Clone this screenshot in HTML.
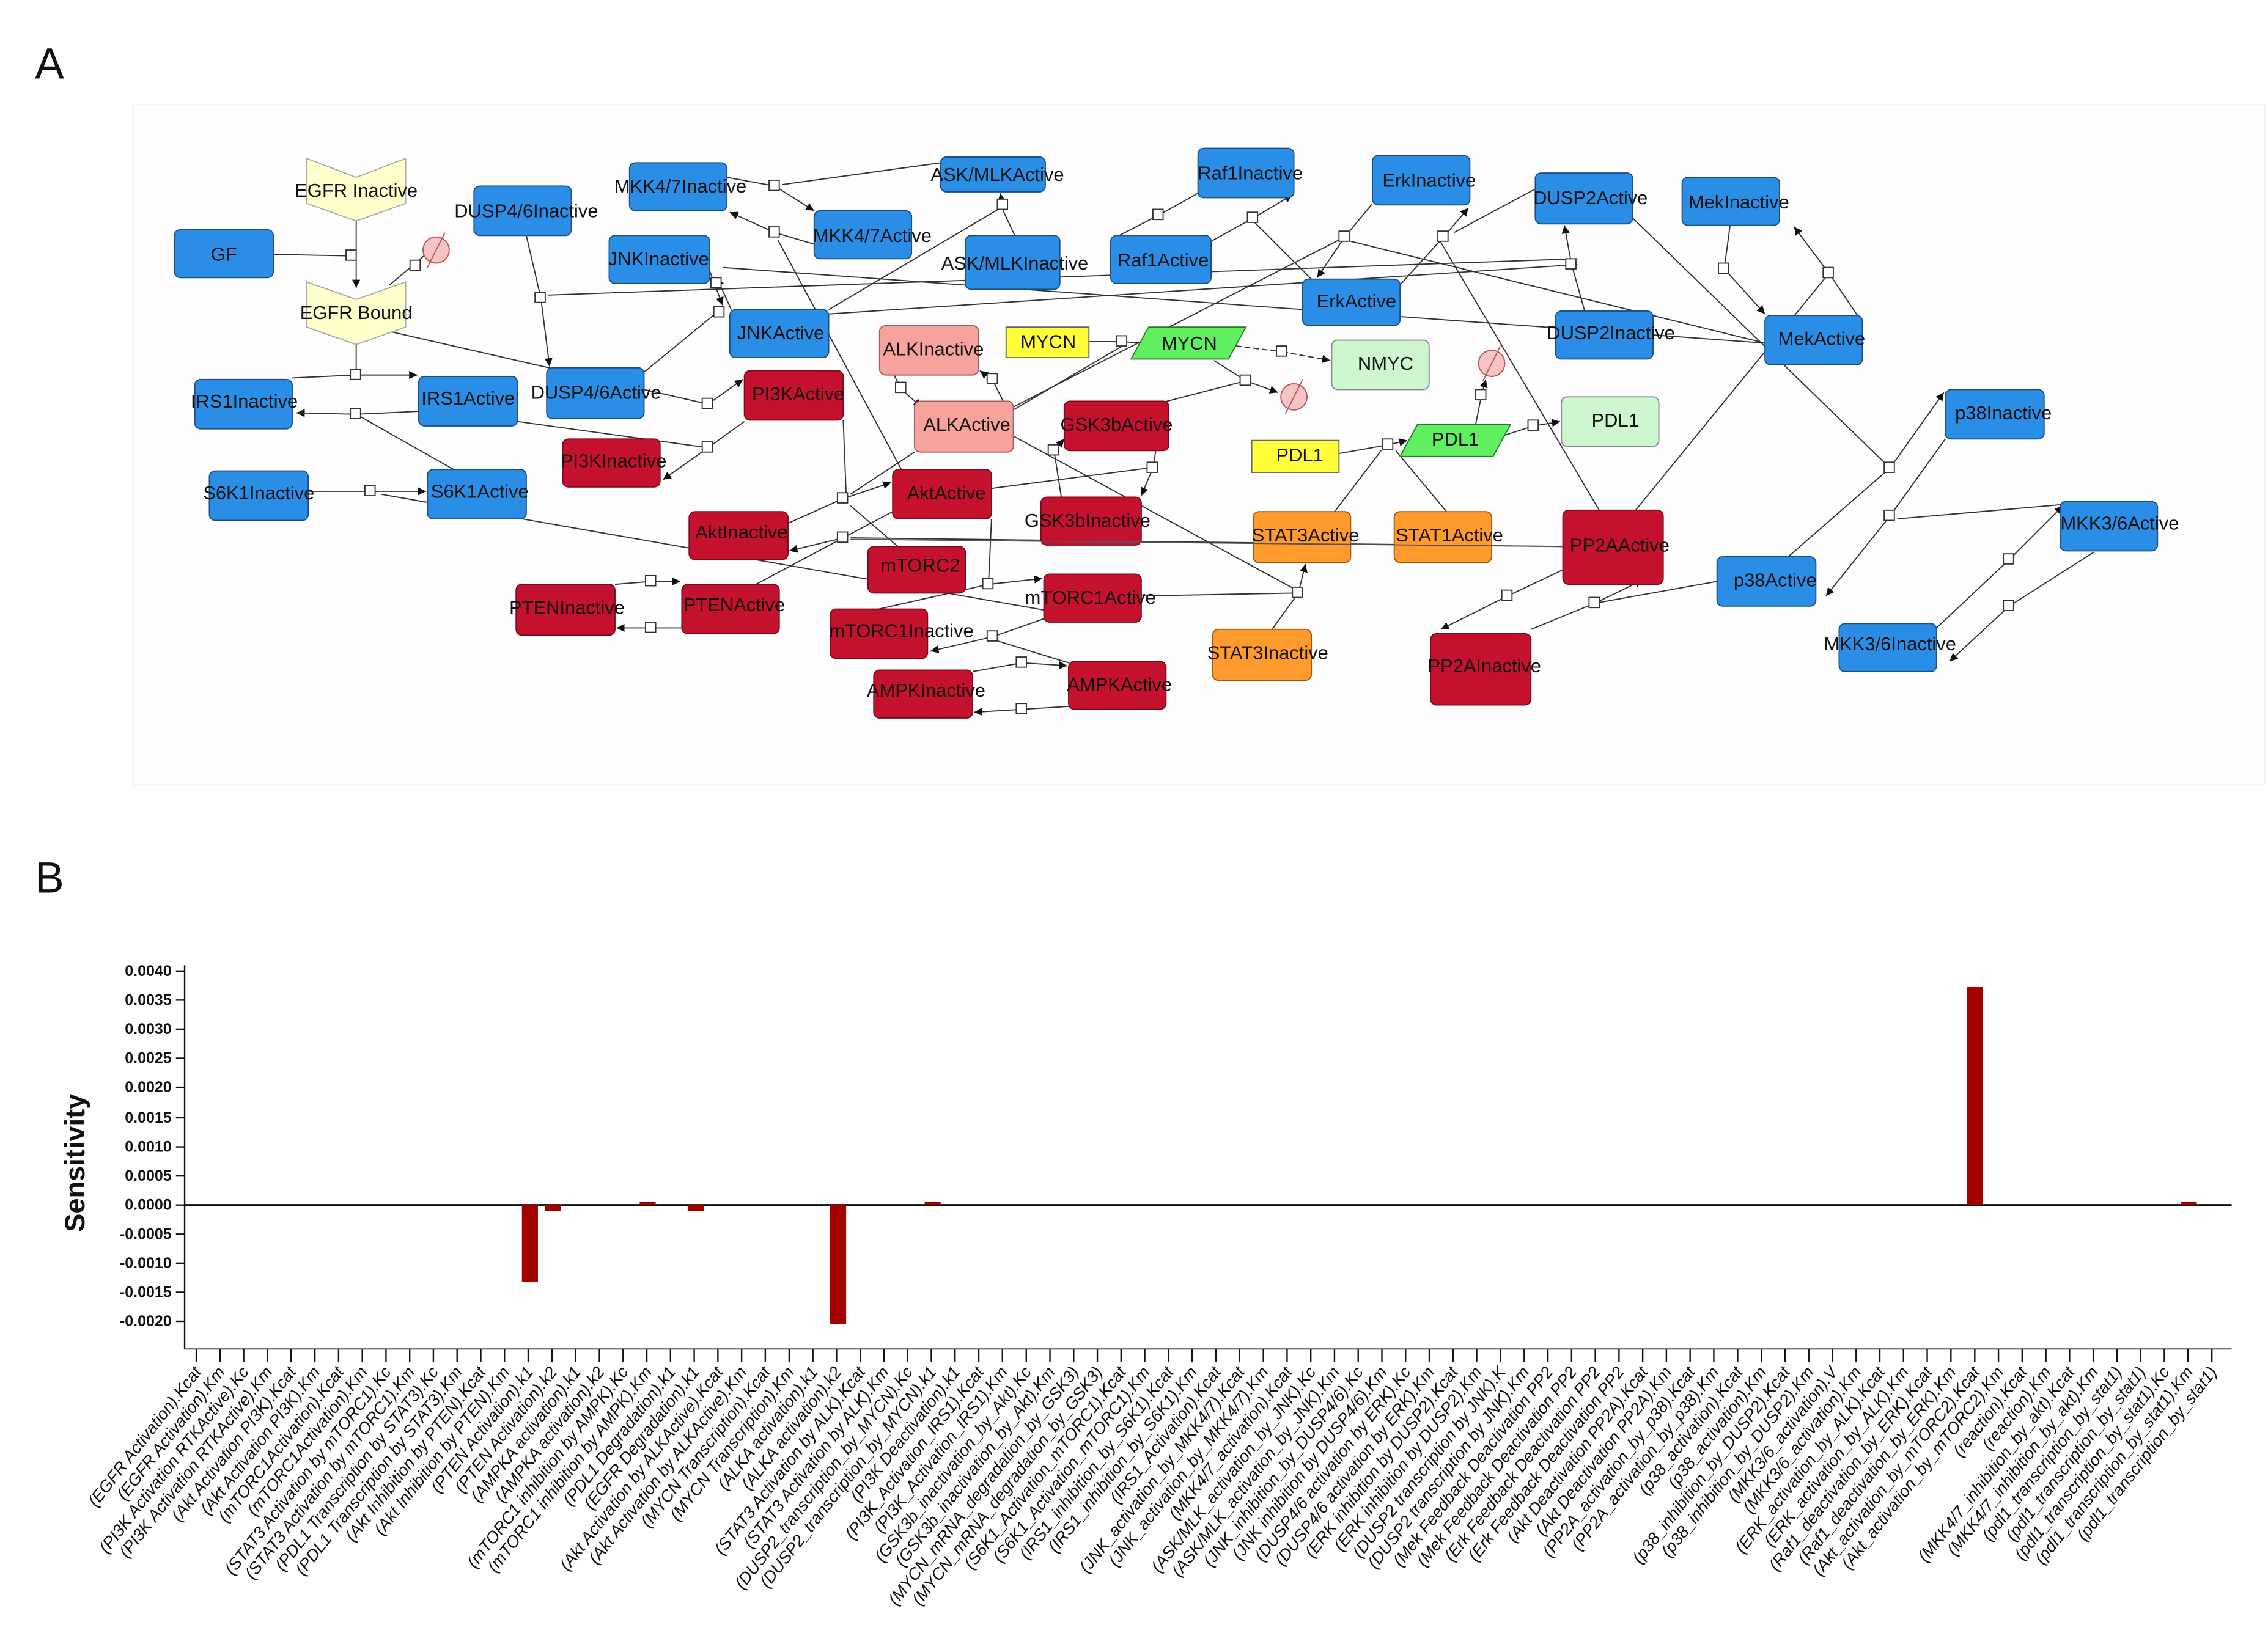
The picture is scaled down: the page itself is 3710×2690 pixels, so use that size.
<!DOCTYPE html>
<html><head><meta charset="utf-8"><style>
html,body{margin:0;padding:0;background:#fff;}
svg{display:block;}
.n{font-family:"Liberation Sans",sans-serif;font-size:13px;fill:#111;text-anchor:middle;dominant-baseline:central;}
.e{stroke:#333;stroke-width:0.8;fill:none;}
.sq{fill:#fff;stroke:#333;stroke-width:0.8;}
.b{fill:#2a8ee6;stroke:#1d4f86;stroke-width:0.8;}
.r{fill:#c4112e;stroke:#7a0a1a;stroke-width:0.8;}
.p{fill:#f5a39c;stroke:#a06060;stroke-width:0.8;}
.o{fill:#ff9a2c;stroke:#a05a10;stroke-width:0.8;}
.lg{fill:#cff7cf;stroke:#889;stroke-width:0.8;}
.yl{fill:#ffff3a;stroke:#666;stroke-width:0.8;}
.gr{fill:#5ef05e;stroke:#2a7a2a;stroke-width:0.8;}
.cv{fill:#ffffcc;stroke:#aaa;stroke-width:0.8;}
.nul{fill:#f6c4c4;stroke:#b55;stroke-width:0.8;}
.yt{font-family:"Liberation Sans",sans-serif;font-size:10.5px;font-weight:bold;fill:#111;text-anchor:end;dominant-baseline:central;}
.xl{font-family:"Liberation Sans",sans-serif;font-size:11.5px;font-style:italic;fill:#111;text-anchor:end;}
</style></head><body>
<svg width="3710" height="2690" viewBox="0 0 1560 1131" preserveAspectRatio="none" xmlns="http://www.w3.org/2000/svg">
<defs>
<marker id="ar" viewBox="0 0 10 10" refX="10" refY="5" markerWidth="7" markerHeight="7" orient="auto"><path d="M0,0 L10,5 L0,10 z" fill="#111"/></marker>
</defs>
<text x="24" y="54" font-family="Liberation Sans,sans-serif" font-size="30" fill="#111">A</text>
<text x="24" y="614" font-family="Liberation Sans,sans-serif" font-size="30" fill="#111">B</text>
<rect x="92" y="72" width="1466" height="468" fill="#fefefe" stroke="#f4f4f4" stroke-width="1"/>

<g class="e">
<line x1="188" y1="175" x2="238" y2="176"/>
<line x1="245" y1="152" x2="245" y2="198" marker-end="url(#ar)"/>
<line x1="268" y1="196" x2="294" y2="174"/>
<line x1="245" y1="236" x2="245" y2="258"/>
<line x1="201" y1="260" x2="245" y2="258"/>
<line x1="245" y1="258" x2="287" y2="258" marker-end="url(#ar)"/>
<line x1="288" y1="283" x2="245" y2="285"/>
<line x1="245" y1="285" x2="204" y2="284" marker-end="url(#ar)"/>
<line x1="245" y1="285" x2="312" y2="323"/>
<line x1="212" y1="338" x2="255" y2="338"/>
<line x1="255" y1="338" x2="293" y2="338" marker-end="url(#ar)"/>
<line x1="262" y1="340" x2="720" y2="420"/>
<line x1="362" y1="162" x2="372" y2="205"/>
<line x1="372" y1="205" x2="378" y2="252" marker-end="url(#ar)"/>
<line x1="377" y1="203" x2="1085" y2="178"/>
<line x1="268" y1="228" x2="487" y2="278"/>
<line x1="487" y1="278" x2="511" y2="261" marker-end="url(#ar)"/>
<line x1="512" y1="290" x2="487" y2="308"/>
<line x1="487" y1="308" x2="456" y2="330" marker-end="url(#ar)"/>
<line x1="356" y1="290" x2="487" y2="308"/>
<line x1="443" y1="256" x2="493" y2="215"/>
<line x1="488" y1="186" x2="497" y2="210" marker-end="url(#ar)"/>
<line x1="503" y1="213" x2="493" y2="191" marker-end="url(#ar)"/>
<line x1="497" y1="184" x2="1214" y2="236"/>
<line x1="570" y1="216" x2="1085" y2="182"/>
<line x1="500" y1="122" x2="533" y2="128"/>
<line x1="533" y1="128" x2="560" y2="145" marker-end="url(#ar)"/>
<line x1="560" y1="168" x2="533" y2="160"/>
<line x1="533" y1="160" x2="502" y2="146" marker-end="url(#ar)"/>
<line x1="647" y1="112" x2="538" y2="127"/>
<line x1="698" y1="162" x2="690" y2="145"/>
<line x1="690" y1="145" x2="688" y2="133" marker-end="url(#ar)"/>
<line x1="570" y1="213" x2="690" y2="142"/>
<line x1="535" y1="165" x2="620" y2="323"/>
<line x1="764" y1="165" x2="797" y2="148"/>
<line x1="797" y1="148" x2="824" y2="133"/>
<line x1="833" y1="166" x2="862" y2="150"/>
<line x1="862" y1="150" x2="889" y2="134" marker-end="url(#ar)"/>
<line x1="862" y1="152" x2="905" y2="195"/>
<line x1="944" y1="140" x2="925" y2="163"/>
<line x1="925" y1="163" x2="906" y2="191" marker-end="url(#ar)"/>
<line x1="963" y1="196" x2="993" y2="163"/>
<line x1="993" y1="163" x2="1010" y2="143" marker-end="url(#ar)"/>
<line x1="1056" y1="130" x2="1000" y2="160"/>
<line x1="697" y1="280" x2="925" y2="163"/>
<line x1="929" y1="166" x2="1214" y2="236"/>
<line x1="1090" y1="214" x2="1081" y2="182"/>
<line x1="1081" y1="182" x2="1076" y2="155" marker-end="url(#ar)"/>
<line x1="1190" y1="155" x2="1186" y2="185"/>
<line x1="1186" y1="185" x2="1214" y2="216" marker-end="url(#ar)"/>
<line x1="1281" y1="222" x2="1258" y2="188"/>
<line x1="1258" y1="188" x2="1234" y2="156" marker-end="url(#ar)"/>
<line x1="1123" y1="150" x2="1300" y2="322"/>
<line x1="1258" y1="188" x2="1125" y2="351"/>
<line x1="1230" y1="383" x2="1300" y2="322"/>
<line x1="1300" y1="322" x2="1337" y2="270" marker-end="url(#ar)"/>
<line x1="1338" y1="302" x2="1300" y2="355"/>
<line x1="1300" y1="355" x2="1256" y2="410" marker-end="url(#ar)"/>
<line x1="1420" y1="347" x2="1305" y2="357"/>
<line x1="1332" y1="432" x2="1382" y2="385"/>
<line x1="1382" y1="385" x2="1419" y2="348" marker-end="url(#ar)"/>
<line x1="1440" y1="380" x2="1382" y2="417"/>
<line x1="1382" y1="417" x2="1341" y2="455" marker-end="url(#ar)"/>
<line x1="1075" y1="392" x2="1037" y2="410"/>
<line x1="1037" y1="410" x2="991" y2="433" marker-end="url(#ar)"/>
<line x1="1053" y1="433" x2="1097" y2="415"/>
<line x1="1097" y1="415" x2="1130" y2="399" marker-end="url(#ar)"/>
<line x1="1181" y1="400" x2="1097" y2="415"/>
<line x1="1100" y1="351" x2="990" y2="165"/>
<line x1="921" y1="312" x2="955" y2="306"/>
<line x1="955" y1="306" x2="968" y2="303" marker-end="url(#ar)"/>
<line x1="918" y1="352" x2="950" y2="310"/>
<line x1="995" y1="352" x2="960" y2="310"/>
<line x1="1033" y1="300" x2="1055" y2="293"/>
<line x1="1055" y1="293" x2="1073" y2="290" marker-end="url(#ar)"/>
<line x1="1015" y1="292" x2="1019" y2="272"/>
<line x1="1019" y1="272" x2="1022" y2="261" marker-end="url(#ar)"/>
<line x1="749" y1="235" x2="772" y2="235"/>
<line x1="772" y1="235" x2="784" y2="236"/>
<line x1="850" y1="238" x2="882" y2="242" stroke-dasharray="4,2"/>
<line x1="882" y1="242" x2="915" y2="248" stroke-dasharray="4,2" marker-end="url(#ar)"/>
<line x1="835" y1="248" x2="857" y2="262"/>
<line x1="857" y1="262" x2="879" y2="270" marker-end="url(#ar)"/>
<line x1="772" y1="238" x2="697" y2="282"/>
<line x1="857" y1="262" x2="795" y2="278"/>
<line x1="615" y1="258" x2="620" y2="268"/>
<line x1="620" y1="268" x2="634" y2="280" marker-end="url(#ar)"/>
<line x1="690" y1="276" x2="683" y2="262"/>
<line x1="683" y1="262" x2="674" y2="255" marker-end="url(#ar)"/>
<line x1="542" y1="360" x2="580" y2="343"/>
<line x1="580" y1="343" x2="613" y2="332" marker-end="url(#ar)"/>
<line x1="614" y1="352" x2="580" y2="370"/>
<line x1="580" y1="370" x2="543" y2="379" marker-end="url(#ar)"/>
<line x1="580" y1="289" x2="582" y2="340"/>
<line x1="629" y1="311" x2="585" y2="340"/>
<line x1="620" y1="378" x2="585" y2="348"/>
<line x1="520" y1="402" x2="580" y2="370"/>
<line x1="585" y1="370" x2="1075" y2="376"/>
<line x1="730" y1="342" x2="725" y2="310"/>
<line x1="725" y1="310" x2="732" y2="302" marker-end="url(#ar)"/>
<line x1="795" y1="310" x2="793" y2="322"/>
<line x1="793" y1="322" x2="785" y2="341" marker-end="url(#ar)"/>
<line x1="682" y1="336" x2="790" y2="322"/>
<line x1="697" y1="300" x2="890" y2="405"/>
<line x1="423" y1="402" x2="448" y2="400"/>
<line x1="448" y1="400" x2="468" y2="400" marker-end="url(#ar)"/>
<line x1="469" y1="432" x2="448" y2="432"/>
<line x1="448" y1="432" x2="424" y2="432" marker-end="url(#ar)"/>
<line x1="600" y1="420" x2="680" y2="402"/>
<line x1="680" y1="402" x2="717" y2="398" marker-end="url(#ar)"/>
<line x1="720" y1="425" x2="683" y2="438"/>
<line x1="683" y1="438" x2="640" y2="448" marker-end="url(#ar)"/>
<line x1="735" y1="456" x2="683" y2="440"/>
<line x1="680" y1="400" x2="682" y2="357"/>
<line x1="669" y1="462" x2="703" y2="456"/>
<line x1="703" y1="456" x2="734" y2="458" marker-end="url(#ar)"/>
<line x1="735" y1="486" x2="703" y2="488"/>
<line x1="703" y1="488" x2="670" y2="490" marker-end="url(#ar)"/>
<line x1="875" y1="433" x2="893" y2="408"/>
<line x1="893" y1="408" x2="898" y2="388" marker-end="url(#ar)"/>
<line x1="785" y1="410" x2="890" y2="408"/>
</g>
<g class="sq">
<rect x="238" y="172" width="7" height="7"/><rect x="282" y="179" width="7" height="7"/>
<rect x="241" y="254" width="7" height="7"/><rect x="241" y="281" width="7" height="7"/>
<rect x="251" y="334" width="7" height="7"/><rect x="368" y="201" width="7" height="7"/>
<rect x="483" y="274" width="7" height="7"/><rect x="483" y="304" width="7" height="7"/>
<rect x="489" y="191" width="7" height="7"/><rect x="491" y="211" width="7" height="7"/>
<rect x="529" y="124" width="7" height="7"/><rect x="529" y="156" width="7" height="7"/>
<rect x="686" y="137" width="7" height="7"/><rect x="793" y="144" width="7" height="7"/>
<rect x="858" y="146" width="7" height="7"/><rect x="921" y="159" width="7" height="7"/>
<rect x="989" y="159" width="7" height="7"/><rect x="1077" y="178" width="7" height="7"/>
<rect x="1182" y="181" width="7" height="7"/><rect x="1254" y="184" width="7" height="7"/>
<rect x="1296" y="318" width="7" height="7"/><rect x="1296" y="351" width="7" height="7"/>
<rect x="1378" y="381" width="7" height="7"/><rect x="1378" y="413" width="7" height="7"/>
<rect x="1033" y="406" width="7" height="7"/><rect x="1093" y="411" width="7" height="7"/>
<rect x="951" y="302" width="7" height="7"/><rect x="1051" y="289" width="7" height="7"/>
<rect x="1015" y="268" width="7" height="7"/><rect x="768" y="231" width="7" height="7"/>
<rect x="878" y="238" width="7" height="7"/><rect x="853" y="258" width="7" height="7"/>
<rect x="616" y="263" width="7" height="7"/><rect x="679" y="257" width="7" height="7"/>
<rect x="576" y="339" width="7" height="7"/><rect x="576" y="366" width="7" height="7"/>
<rect x="721" y="306" width="7" height="7"/><rect x="789" y="318" width="7" height="7"/>
<rect x="444" y="396" width="7" height="7"/><rect x="444" y="428" width="7" height="7"/>
<rect x="676" y="398" width="7" height="7"/><rect x="679" y="434" width="7" height="7"/>
<rect x="699" y="452" width="7" height="7"/><rect x="699" y="484" width="7" height="7"/>
<rect x="889" y="404" width="7" height="7"/>
</g>
<g class="nul"><circle cx="300" cy="172" r="9"/><circle cx="890" cy="273" r="9"/><circle cx="1026" cy="250" r="9"/></g>
<g stroke="#b55" stroke-width="0.8"><line x1="294" y1="184" x2="306" y2="160"/><line x1="884" y1="285" x2="896" y2="261"/><line x1="1020" y1="262" x2="1032" y2="238"/></g>

<rect class="b" x="120" y="158" width="68" height="33" rx="4" fill="#1a88e8"/>
<polygon class="cv" points="211,109 245,122 279,109 279,140 245,152 211,140"/>
<polygon class="cv" points="211,194 245,206 279,194 279,225 245,237 211,225"/>
<rect class="b" x="326" y="128" width="67" height="34" rx="4"/>
<rect class="b" x="433" y="112" width="67" height="33" rx="4"/>
<rect class="b" x="560" y="145" width="67" height="33" rx="4"/>
<rect class="b" x="647" y="108" width="72" height="24" rx="4"/>
<rect class="b" x="664" y="162" width="65" height="37" rx="4"/>
<rect class="b" x="419" y="162" width="69" height="33" rx="4"/>
<rect class="b" x="502" y="213" width="68" height="33" rx="4"/>
<rect class="b" x="376" y="253" width="67" height="35" rx="4"/>
<rect class="b" x="134" y="261" width="67" height="34" rx="4"/>
<rect class="b" x="288" y="259" width="68" height="34" rx="4"/>
<rect class="b" x="144" y="324" width="68" height="34" rx="4"/>
<rect class="b" x="294" y="323" width="68" height="34" rx="4"/>
<rect class="b" x="824" y="102" width="66" height="34" rx="4"/>
<rect class="b" x="764" y="162" width="69" height="33" rx="4"/>
<rect class="b" x="944" y="107" width="67" height="34" rx="4"/>
<rect class="b" x="896" y="192" width="67" height="32" rx="4"/>
<rect class="b" x="1056" y="119" width="67" height="35" rx="4"/>
<rect class="b" x="1157" y="122" width="67" height="33" rx="4"/>
<rect class="b" x="1070" y="214" width="67" height="33" rx="4"/>
<rect class="b" x="1214" y="217" width="67" height="34" rx="4"/>
<rect class="b" x="1338" y="268" width="68" height="34" rx="4"/>
<rect class="b" x="1181" y="383" width="68" height="34" rx="4"/>
<rect class="b" x="1417" y="345" width="67" height="34" rx="4"/>
<rect class="b" x="1265" y="429" width="67" height="33" rx="4"/>
<rect class="p" x="605" y="224" width="68" height="34" rx="4"/>
<rect class="p" x="629" y="276" width="68" height="35" rx="4"/>
<rect class="r" x="512" y="255" width="68" height="34" rx="4"/>
<rect class="r" x="387" y="302" width="67" height="33" rx="4"/>
<rect class="r" x="614" y="323" width="68" height="34" rx="4"/>
<rect class="r" x="474" y="352" width="68" height="33" rx="4"/>
<rect class="r" x="597" y="376" width="67" height="32" rx="4"/>
<rect class="r" x="355" y="402" width="68" height="35" rx="4"/>
<rect class="r" x="469" y="402" width="67" height="34" rx="4"/>
<rect class="r" x="571" y="419" width="67" height="34" rx="4"/>
<rect class="r" x="718" y="395" width="67" height="33" rx="4"/>
<rect class="r" x="601" y="461" width="68" height="33" rx="4"/>
<rect class="r" x="735" y="455" width="67" height="33" rx="4"/>
<rect class="r" x="732" y="276" width="72" height="34" rx="4"/>
<rect class="r" x="716" y="342" width="69" height="33" rx="4"/>
<rect class="r" x="1075" y="351" width="69" height="51" rx="4"/>
<rect class="r" x="984" y="436" width="69" height="49" rx="4"/>
<rect class="yl" x="692" y="225" width="57" height="21"/>
<rect class="yl" x="861" y="303" width="60" height="22"/>
<polygon class="gr" points="790,225 857,225 845,247 778,247"/>
<polygon class="gr" points="975,292 1039,292 1027,314 963,314"/>
<rect class="lg" x="916" y="234" width="67" height="34" rx="4"/>
<rect class="lg" x="1074" y="273" width="67" height="34" rx="4"/>
<rect class="o" x="862" y="352" width="67" height="35" rx="4"/>
<rect class="o" x="959" y="352" width="67" height="35" rx="4"/>
<rect class="o" x="834" y="433" width="68" height="35" rx="4"/>
<line x1="585" y1="371" x2="1075" y2="376" stroke="#555" stroke-width="0.8"/>

<g class="n">
<text x="154" y="175">GF</text>
<text x="245" y="131">EGFR Inactive</text>
<text x="245" y="215">EGFR Bound</text>
<text x="362" y="145">DUSP4/6Inactive</text>
<text x="468" y="128">MKK4/7Inactive</text>
<text x="600" y="162">MKK4/7Active</text>
<text x="686" y="120">ASK/MLKActive</text>
<text x="698" y="181">ASK/MLKInactive</text>
<text x="453" y="178">JNKInactive</text>
<text x="537" y="229">JNKActive</text>
<text x="410" y="270">DUSP4/6Active</text>
<text x="168" y="276">IRS1Inactive</text>
<text x="322" y="274">IRS1Active</text>
<text x="178" y="339">S6K1Inactive</text>
<text x="330" y="338">S6K1Active</text>
<text x="860" y="119">Raf1Inactive</text>
<text x="800" y="179">Raf1Active</text>
<text x="983" y="124">ErkInactive</text>
<text x="933" y="207">ErkActive</text>
<text x="1094" y="136">DUSP2Active</text>
<text x="1196" y="139">MekInactive</text>
<text x="1108" y="229">DUSP2Inactive</text>
<text x="1253" y="233">MekActive</text>
<text x="1378" y="284">p38Inactive</text>
<text x="1221" y="399">p38Active</text>
<text x="1458" y="360">MKK3/6Active</text>
<text x="1300" y="443">MKK3/6Inactive</text>
<text x="642" y="240">ALKInactive</text>
<text x="665" y="292">ALKActive</text>
<text x="549" y="271">PI3KActive</text>
<text x="422" y="317">PI3KInactive</text>
<text x="651" y="339">AktActive</text>
<text x="510" y="366">AktInactive</text>
<text x="633" y="389">mTORC2</text>
<text x="390" y="418">PTENInactive</text>
<text x="505" y="416">PTENActive</text>
<text x="620" y="434">mTORC1Inactive</text>
<text x="750" y="411">mTORC1Active</text>
<text x="637" y="475">AMPKInactive</text>
<text x="770" y="471">AMPKActive</text>
<text x="768" y="292">GSK3bActive</text>
<text x="748" y="358">GSK3bInactive</text>
<text x="1114" y="375">PP2AActive</text>
<text x="1021" y="458">PP2AInactive</text>
<text x="721" y="235">MYCN</text>
<text x="818" y="236">MYCN</text>
<text x="953" y="250">NMYC</text>
<text x="894" y="313">PDL1</text>
<text x="1001" y="302">PDL1</text>
<text x="1111" y="289">PDL1</text>
<text x="898" y="368">STAT3Active</text>
<text x="997" y="368">STAT1Active</text>
<text x="872" y="449">STAT3Inactive</text>
</g>

<g stroke="#111" stroke-width="1">
<line x1="127" y1="664" x2="127" y2="928"/>
<line x1="127" y1="928" x2="1535" y2="928" stroke="#777"/>
<line x1="127" y1="829" x2="1535" y2="829" stroke-width="1.3"/>
</g>
<g stroke="#111" stroke-width="1">
<line x1="121" y1="668" x2="127" y2="668"/><line x1="121" y1="688" x2="127" y2="688"/><line x1="121" y1="708" x2="127" y2="708"/><line x1="121" y1="728" x2="127" y2="728"/><line x1="121" y1="748" x2="127" y2="748"/><line x1="121" y1="769" x2="127" y2="769"/><line x1="121" y1="789" x2="127" y2="789"/><line x1="121" y1="809" x2="127" y2="809"/><line x1="121" y1="829" x2="127" y2="829"/><line x1="121" y1="849" x2="127" y2="849"/><line x1="121" y1="869" x2="127" y2="869"/><line x1="121" y1="889" x2="127" y2="889"/><line x1="121" y1="909" x2="127" y2="909"/>
</g>
<g class="yt">
<text x="118" y="668">0.0040</text><text x="118" y="688">0.0035</text><text x="118" y="708">0.0030</text><text x="118" y="728">0.0025</text><text x="118" y="748">0.0020</text><text x="118" y="769">0.0015</text><text x="118" y="789">0.0010</text><text x="118" y="809">0.0005</text><text x="118" y="829">0.0000</text><text x="118" y="849">-0.0005</text><text x="118" y="869">-0.0010</text><text x="118" y="889">-0.0015</text><text x="118" y="909">-0.0020</text>
</g>
<text x="0" y="0" transform="translate(58,800) rotate(-90)" text-anchor="middle" font-family="Liberation Sans,sans-serif" font-weight="bold" font-size="19" fill="#111">Sensitivity</text>
<g fill="#a30000">
<rect x="359" y="829" width="11" height="53"/>
<rect x="375" y="829" width="11" height="4"/>
<rect x="440" y="827" width="11" height="2"/>
<rect x="473" y="829" width="11" height="4"/>
<rect x="571" y="829" width="11" height="82"/>
<rect x="636" y="827" width="11" height="2"/>
<rect x="1353" y="679" width="11" height="150"/>
<rect x="1500" y="827" width="11" height="2"/>
</g>
<g stroke="#111" stroke-width="1">
<path d="M135,928v9M151.3,928v9M167.6,928v9M183.9,928v9M200.2,928v9M216.6,928v9M232.9,928v9M249.2,928v9M265.5,928v9M281.8,928v9M298.1,928v9M314.4,928v9M330.7,928v9M347,928v9M363.3,928v9M379.7,928v9M396,928v9M412.3,928v9M428.6,928v9M444.9,928v9M461.2,928v9M477.5,928v9M493.8,928v9M510.1,928v9M526.4,928v9M542.8,928v9M559.1,928v9M575.4,928v9M591.7,928v9M608,928v9M624.3,928v9M640.6,928v9M656.9,928v9M673.2,928v9M689.5,928v9M705.9,928v9M722.2,928v9M738.5,928v9M754.8,928v9M771.1,928v9M787.4,928v9M803.7,928v9M820,928v9M836.3,928v9M852.6,928v9M869,928v9M885.3,928v9M901.6,928v9M917.9,928v9M934.2,928v9M950.5,928v9M966.8,928v9M983.1,928v9M999.4,928v9M1015.7,928v9M1032.1,928v9M1048.4,928v9M1064.7,928v9M1081,928v9M1097.3,928v9M1113.6,928v9M1129.9,928v9M1146.2,928v9M1162.5,928v9M1178.8,928v9M1195.2,928v9M1211.5,928v9M1227.8,928v9M1244.1,928v9M1260.4,928v9M1276.7,928v9M1293,928v9M1309.3,928v9M1325.6,928v9M1341.9,928v9M1358.3,928v9M1374.6,928v9M1390.9,928v9M1407.2,928v9M1423.5,928v9M1439.8,928v9M1456.1,928v9M1472.4,928v9M1488.7,928v9M1505,928v9M1521.4,928v9"/>
</g>
<g class="xl">
<text transform="translate(139,944) rotate(-52)">(EGFR Activation).Kcat</text>
<text transform="translate(155.3,944) rotate(-52)">(EGFR Activation).Km</text>
<text transform="translate(171.6,944) rotate(-52)">(PI3K Activation RTKActive).Kc</text>
<text transform="translate(187.9,944) rotate(-52)">(PI3K Activation RTKActive).Km</text>
<text transform="translate(204.2,944) rotate(-52)">(Akt Activation PI3K).Kcat</text>
<text transform="translate(220.6,944) rotate(-52)">(Akt Activation PI3K).Km</text>
<text transform="translate(236.9,944) rotate(-52)">(mTORC1Activation).Kcat</text>
<text transform="translate(253.2,944) rotate(-52)">(mTORC1Activation).Km</text>
<text transform="translate(269.5,944) rotate(-52)">(STAT3 Activation by mTORC1).Kc</text>
<text transform="translate(285.8,944) rotate(-52)">(STAT3 Activation by mTORC1).Km</text>
<text transform="translate(302.1,944) rotate(-52)">(PDL1 Transcription by STAT3).Kc</text>
<text transform="translate(318.4,944) rotate(-52)">(PDL1 Transcription by STAT3).Km</text>
<text transform="translate(334.7,944) rotate(-52)">(Akt Inhibition by PTEN).Kcat</text>
<text transform="translate(351,944) rotate(-52)">(Akt Inhibition by PTEN).Km</text>
<text transform="translate(367.3,944) rotate(-52)">(PTEN Activation).k1</text>
<text transform="translate(383.7,944) rotate(-52)">(PTEN Activation).k2</text>
<text transform="translate(400,944) rotate(-52)">(AMPKA activation).k1</text>
<text transform="translate(416.3,944) rotate(-52)">(AMPKA activation).k2</text>
<text transform="translate(432.6,944) rotate(-52)">(mTORC1 inhibition by AMPK).Kc</text>
<text transform="translate(448.9,944) rotate(-52)">(mTORC1 inhibition by AMPK).Km</text>
<text transform="translate(465.2,944) rotate(-52)">(PDL1 Degradation).k1</text>
<text transform="translate(481.5,944) rotate(-52)">(EGFR Degradation).k1</text>
<text transform="translate(497.8,944) rotate(-52)">(Akt Activation by ALKActive).Kcat</text>
<text transform="translate(514.1,944) rotate(-52)">(Akt Activation by ALKActive).Km</text>
<text transform="translate(530.4,944) rotate(-52)">(MYCN Transcription).Kcat</text>
<text transform="translate(546.8,944) rotate(-52)">(MYCN Transcription).Km</text>
<text transform="translate(563.1,944) rotate(-52)">(ALKA activation).k1</text>
<text transform="translate(579.4,944) rotate(-52)">(ALKA activation).k2</text>
<text transform="translate(595.7,944) rotate(-52)">(STAT3 Activation by ALK).Kcat</text>
<text transform="translate(612,944) rotate(-52)">(STAT3 Activation by ALK).Km</text>
<text transform="translate(628.3,944) rotate(-52)">(DUSP2_transcription_by_MYCN).Kc</text>
<text transform="translate(644.6,944) rotate(-52)">(DUSP2_transcription_by_MYCN).k1</text>
<text transform="translate(660.9,944) rotate(-52)">(PI3K Deactivation).k1</text>
<text transform="translate(677.2,944) rotate(-52)">(PI3K_Activation_IRS1).Kcat</text>
<text transform="translate(693.5,944) rotate(-52)">(PI3K_Activation_IRS1).Km</text>
<text transform="translate(709.9,944) rotate(-52)">(GSK3b_inactivation_by_Akt).Kc</text>
<text transform="translate(726.2,944) rotate(-52)">(GSK3b_inactivation_by_Akt).Km</text>
<text transform="translate(742.5,944) rotate(-52)">(MYCN_mRNA_degradation_by_GSK3)</text>
<text transform="translate(758.8,944) rotate(-52)">(MYCN_mRNA_degradation_by_GSK3)</text>
<text transform="translate(775.1,944) rotate(-52)">(S6K1_Activation_mTORC1).Kcat</text>
<text transform="translate(791.4,944) rotate(-52)">(S6K1_Activation_mTORC1).Km</text>
<text transform="translate(807.7,944) rotate(-52)">(IRS1_inhibition_by_S6K1).Kcat</text>
<text transform="translate(824,944) rotate(-52)">(IRS1_inhibition_by_S6K1).Km</text>
<text transform="translate(840.3,944) rotate(-52)">(IRS1_Activation).Kcat</text>
<text transform="translate(856.6,944) rotate(-52)">(JNK_activation_by_MKK4/7).Kcat</text>
<text transform="translate(873,944) rotate(-52)">(JNK_activation_by_MKK4/7).Km</text>
<text transform="translate(889.3,944) rotate(-52)">(MKK4/7_activation).Kcat</text>
<text transform="translate(905.6,944) rotate(-52)">(ASK/MLK_activation_by_JNK).Kc</text>
<text transform="translate(921.9,944) rotate(-52)">(ASK/MLK_activation_by_JNK).Km</text>
<text transform="translate(938.2,944) rotate(-52)">(JNK_inhibition_by_DUSP4/6).Kc</text>
<text transform="translate(954.5,944) rotate(-52)">(JNK inhibition by DUSP4/6).Km</text>
<text transform="translate(970.8,944) rotate(-52)">(DUSP4/6 activation by ERK).Kc</text>
<text transform="translate(987.1,944) rotate(-52)">(DUSP4/6 activation by ERK).Km</text>
<text transform="translate(1003.4,944) rotate(-52)">(ERK inhibition by DUSP2).Kcat</text>
<text transform="translate(1019.7,944) rotate(-52)">(ERK inhibition by DUSP2).Km</text>
<text transform="translate(1036.1,944) rotate(-52)">(DUSP2 transcription by JNK).K</text>
<text transform="translate(1052.4,944) rotate(-52)">(DUSP2 transcription by JNK).Km</text>
<text transform="translate(1068.7,944) rotate(-52)">(Mek Feedback Deactivation PP2</text>
<text transform="translate(1085,944) rotate(-52)">(Mek Feedback Deactivation PP2</text>
<text transform="translate(1101.3,944) rotate(-52)">(Erk Feedback Deactivation PP2</text>
<text transform="translate(1117.6,944) rotate(-52)">(Erk Feedback Deactivation PP2</text>
<text transform="translate(1133.9,944) rotate(-52)">(Akt Deactivation PP2A).Kcat</text>
<text transform="translate(1150.2,944) rotate(-52)">(Akt Deactivation PP2A).Km</text>
<text transform="translate(1166.5,944) rotate(-52)">(PP2A_activation_by_p38).Kcat</text>
<text transform="translate(1182.8,944) rotate(-52)">(PP2A_activation_by_p38).Km</text>
<text transform="translate(1199.2,944) rotate(-52)">(p38_activation).Kcat</text>
<text transform="translate(1215.5,944) rotate(-52)">(p38_activation).Km</text>
<text transform="translate(1231.8,944) rotate(-52)">(p38_inhibition_by_DUSP2).Kcat</text>
<text transform="translate(1248.1,944) rotate(-52)">(p38_inhibition_by_DUSP2).Km</text>
<text transform="translate(1264.4,944) rotate(-52)">(MKK3/6_activation).V</text>
<text transform="translate(1280.7,944) rotate(-52)">(MKK3/6_activation).Km</text>
<text transform="translate(1297,944) rotate(-52)">(ERK_activation_by_ALK).Kcat</text>
<text transform="translate(1313.3,944) rotate(-52)">(ERK_activation_by_ALK).Km</text>
<text transform="translate(1329.6,944) rotate(-52)">(Raf1_deactivation_by_ERK).Kcat</text>
<text transform="translate(1345.9,944) rotate(-52)">(Raf1_deactivation_by_ERK).Km</text>
<text transform="translate(1362.3,944) rotate(-52)">(Akt_activation_by_mTORC2).Kcat</text>
<text transform="translate(1378.6,944) rotate(-52)">(Akt_activation_by_mTORC2).Km</text>
<text transform="translate(1394.9,944) rotate(-52)">(reaction).Kcat</text>
<text transform="translate(1411.2,944) rotate(-52)">(reaction).Km</text>
<text transform="translate(1427.5,944) rotate(-52)">(MKK4/7_inhibition_by_akt).Kcat</text>
<text transform="translate(1443.8,944) rotate(-52)">(MKK4/7_inhibition_by_akt).Km</text>
<text transform="translate(1460.1,944) rotate(-52)">(pdl1_transcription_by_stat1)</text>
<text transform="translate(1476.4,944) rotate(-52)">(pdl1_transcription_by_stat1)</text>
<text transform="translate(1492.7,944) rotate(-52)">(pdl1_transcription_by_stat1).Kc</text>
<text transform="translate(1509,944) rotate(-52)">(pdl1_transcription_by_stat1).Km</text>
<text transform="translate(1525.4,944) rotate(-52)">(pdl1_transcription_by_stat1)</text>
</g>
</svg>
</body></html>
